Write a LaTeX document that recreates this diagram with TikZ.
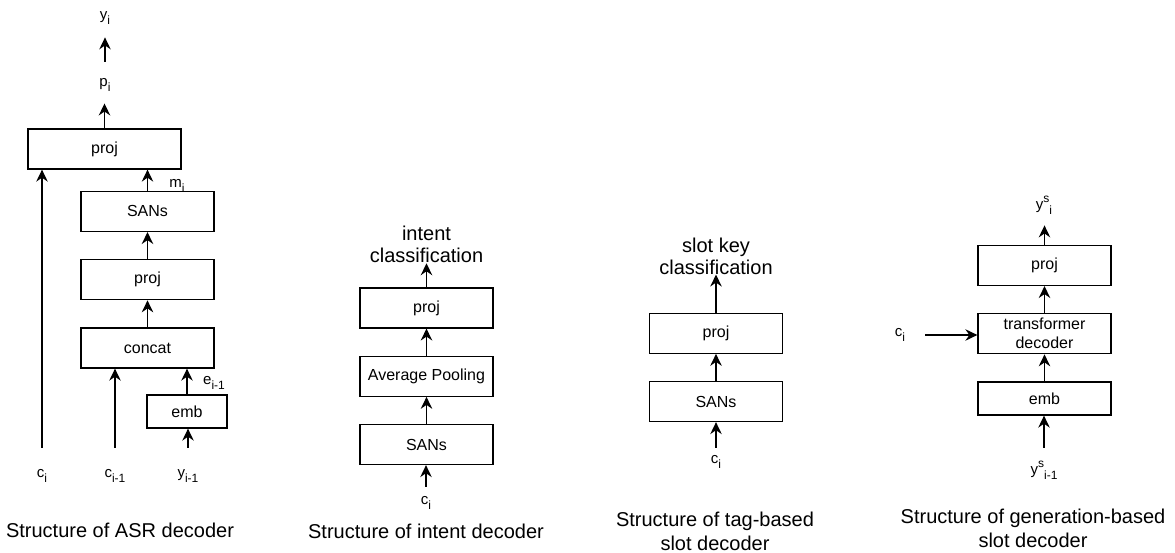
\documentclass[tikz,border=0pt]{standalone}
\usepackage{fontspec}
\setmainfont{Liberation Sans}
\usepackage{tikz}
\usetikzlibrary{arrows.meta,positioning}
\newcommand{\lowidx}[1]{\raisebox{-0.3em}{\fontsize{12}{12}\selectfont #1}}
\newcommand{\highidx}[1]{\raisebox{0.5em}{\fontsize{12}{12}\selectfont #1}}

\begin{document}
\begin{tikzpicture}[x=1pt, y=-1pt, node distance=27pt,
		box/.style={draw, line width=1.3pt, minimum width=133pt, minimum height=40pt, inner sep=0pt, font=\fontsize{16}{18}\selectfont},
		lbl/.style={inner sep=0pt, font=\fontsize{15}{17}\selectfont},
		headtxt/.style={inner sep=0pt, align=center, font=\fontsize{20}{22}\selectfont},
		captxt/.style={inner sep=0pt, align=center, font=\fontsize{20}{24}\selectfont},
		arr/.style={-{Stealth[length=12pt,width=11.5pt,inset=4pt]}, line width=1.3pt}]
			\useasboundingbox (0,0) rectangle (1175,553);
			
			% ASR decoder
			\node[box] (asrcat) at (147.5,348) {concat};
			\node[box, above=of asrcat] (asrlin) {proj};
			\node[box, above=of asrlin] (asrsans) {SANs};
			\node[box, minimum width=153pt] (asrproj) at (104.5,149) {proj};
			\node[box, minimum width=80pt, minimum height=33pt] (asremb) at (187,411.5) {emb};
			\node[lbl] (yi) at (105,18) {y\lowidx{i}};
			\node[lbl] (pi) at (105,85) {p\lowidx{i}};
			\node[lbl] (mi) at (177,186) {m\lowidx{i}};
			\node[lbl] (ei) at (214,383) {e\lowidx{i-1}};
			\node[lbl] (ci) at (42,476) {c\lowidx{i}};
			\node[lbl] (cprev) at (115,476) {c\lowidx{i-1}};
			\node[lbl] (yprev) at (188,476) {y\lowidx{i-1}};
			\node[captxt] (asrcap) at (120,530) {Structure of ASR decoder};
			
			\draw[arr, shorten <=22pt] (ci.north) -- (ci.north |- asrproj.south);
			\draw[arr, shorten <=22pt] (cprev.north) -- (cprev.north |- asrcat.south);
			\draw[arr, shorten <=22pt] (yprev.north) -- (yprev.north |- asremb.south);
			\draw[arr] (asremb.north) -- (asremb.north |- asrcat.south);
			\draw[arr] (asrcat) -- (asrlin);
			\draw[arr] (asrlin) -- (asrsans);
			\draw[arr] (asrsans.north) -- (asrsans.north |- asrproj.south);
			\draw[arr, shorten >=12pt] (asrproj.north) -- (asrproj.north |- pi.south);
			\draw[arr, shorten <=17pt, shorten >=13pt] (pi.north) -- (yi.south);
			
			% intent decoder
			\node[box] (intsans) at (426.5,444.5) {SANs};
			\node[box, above=of intsans] (intpool) {Average Pooling};
			\node[box, above=of intpool] (intproj) {proj};
			\node[headtxt, above=24pt of intproj] (intcls) {intent\\classification};
			\node[lbl] (ici) at (426,503) {c\lowidx{i}};
			\node[captxt] (intcap) at (426,531) {Structure of intent decoder};
			
			\draw[arr, shorten <=10pt] (ici.north) -- (ici.north |- intsans.south);
			\draw[arr] (intsans) -- (intpool);
			\draw[arr] (intpool) -- (intproj);
			\draw[arr] (intproj) -- (intcls);
			
			% tag-based slot decoder
			\node[box] (tagsans) at (716,401.5) {SANs};
			\node[box, above=of tagsans] (tagproj) {proj};
			\node[headtxt, above=38pt of tagproj] (tagcls) {slot key\\classification};
			\node[lbl] (tci) at (716,462) {c\lowidx{i}};
			\node[captxt] (tagcap) at (715,531) {Structure of tag-based\\slot decoder};
			
			\draw[arr, shorten <=8pt] (tci.north) -- (tci.north |- tagsans.south);
			\draw[arr] (tagsans) -- (tagproj);
			\draw[arr] (tagproj) -- (tagcls);
			
			% generation-based slot decoder
			\node[box, minimum height=33pt] (genemb) at (1044.5,398.5) {emb};
			\node[box, above=of genemb, align=center, font=\fontsize{16}{19}\selectfont] (gentrans) {transformer\\decoder};
			\node[box, above=of gentrans] (genproj) {proj};
			\node[lbl] (gys) at (1044,205) {y\highidx{s}\lowidx{i}};
			\node[lbl] (gysprev) at (1044,470) {y\highidx{s}\lowidx{i-1}};
			\node[lbl] (gci) at (900,335) {c\lowidx{i}};
			\node[captxt] (gencap) at (1033,528) {Structure of generation-based\\slot decoder};
			
			\draw[arr, shorten <=13pt] (gysprev.north) -- (gysprev.north |- genemb.south);
			\draw[arr] (genemb) -- (gentrans);
			\draw[arr] (gentrans) -- (genproj);
			\draw[arr, shorten >=11pt] (genproj.north) -- (genproj.north |- gys.south);
			\draw[arr, shorten <=20pt] (gci.east) -- (gci.east -| gentrans.west);
		\end{tikzpicture}
\end{document}
